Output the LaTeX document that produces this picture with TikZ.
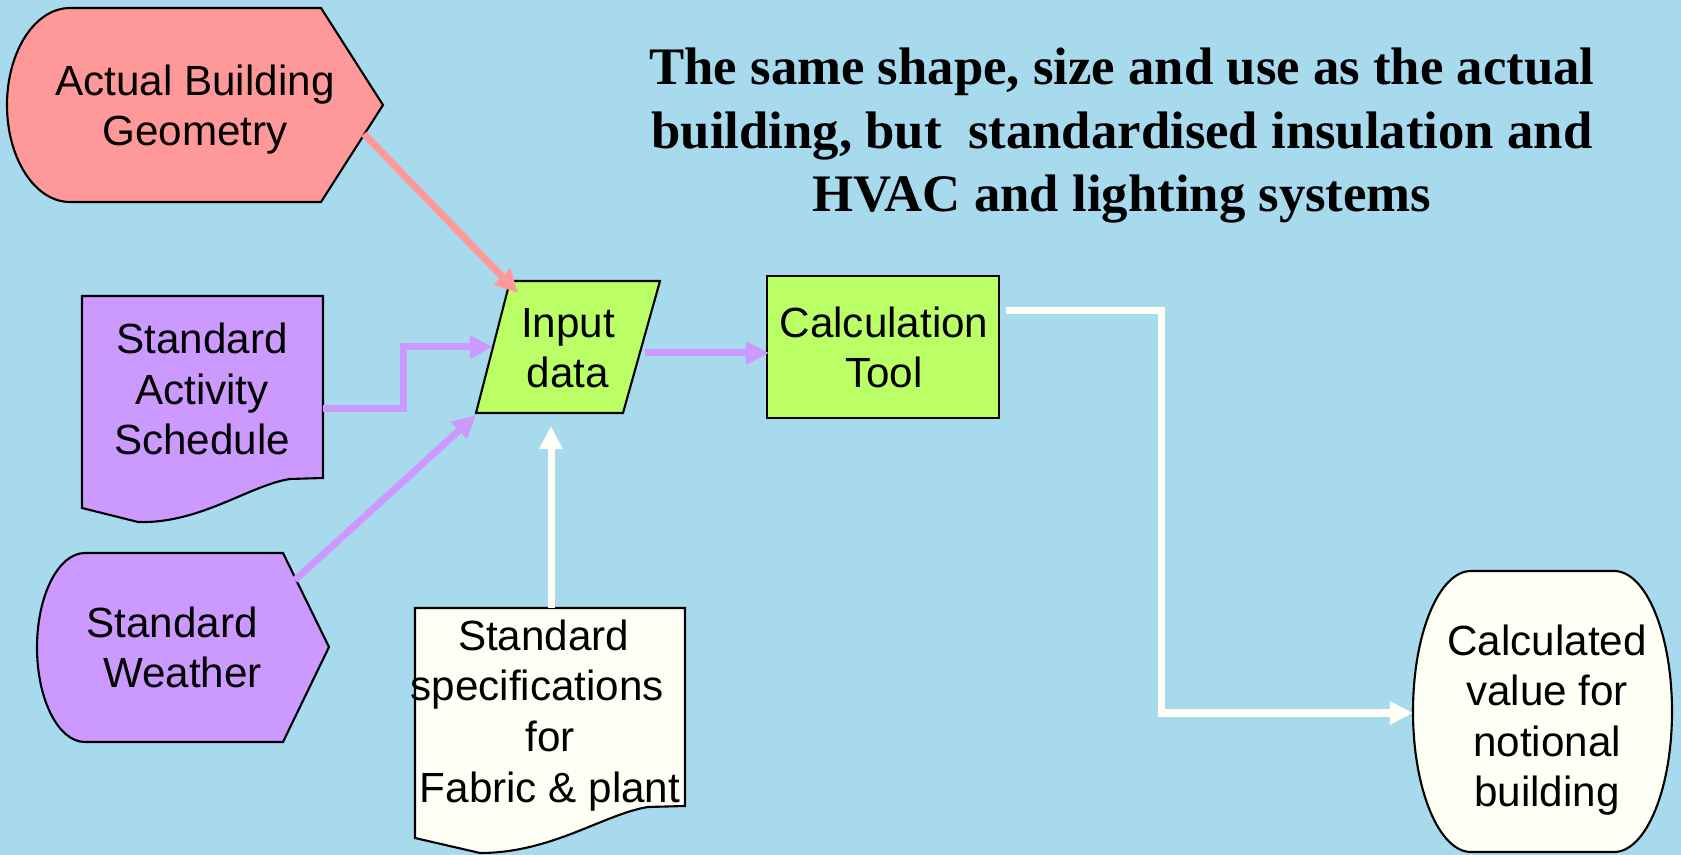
\documentclass[tikz,border=0pt]{standalone}
\usepackage{fontspec}
\setmainfont{Liberation Serif}
\setsansfont{Liberation Sans}
\usetikzlibrary{arrows.meta}
\definecolor{bgblue}{RGB}{168,218,238}
\definecolor{geompink}{RGB}{255,153,153}
\definecolor{stdpurple}{RGB}{204,153,255}
\definecolor{toolgreen}{RGB}{187,255,102}
\definecolor{papercream}{RGB}{255,255,246}

\begin{document}
\begin{tikzpicture}[x = 0.01cm, y = -0.01cm,
	boxline/.style = {draw = black, line width = 0.6pt},
	boxtext/.style = {font = \sffamily\fontsize{12}{14.4}\selectfont, align = center, anchor = base, inner sep = 0pt},
	headtext/.style = {font = \bfseries\fontsize{15}{18.07}\selectfont, align = center, anchor = base, inner sep = 0pt},
	flow/.style = {line width = 0.07cm, -{Triangle[length = 0.23cm, width = 0.22cm]}}]
	\fill[bgblue] (0, 0) rectangle (1681, 855);
	\useasboundingbox (0, 0) rectangle (1681, 855);

	\draw[boxline, fill = geompink] (70, 8) -- (321, 8) -- (383, 105) -- (321, 202) -- (70, 202)
		.. controls (35, 202) and (7, 158.6) .. (7, 105) .. controls (7, 51.4) and (35, 8) .. cycle;
	\draw[boxline, fill = stdpurple] (82, 296) -- (323, 296) -- (323, 478) -- (290, 479)
		.. controls (250, 485) and (200, 524) .. (138, 522) -- (82, 508) -- cycle;
	\draw[boxline, fill = stdpurple] (85, 553) -- (283, 553) -- (329, 647) -- (283, 742) -- (85, 742)
		.. controls (58.5, 742) and (37, 699.7) .. (37, 647.5) .. controls (37, 595.3) and (58.5, 553) .. cycle;
	\draw[boxline, fill = toolgreen] (510, 281) -- (660, 281) -- (623, 413) -- (476, 413) -- cycle;
	\draw[boxline, fill = toolgreen] (767, 276) rectangle (999, 418);
	\draw[boxline, fill = papercream] (415, 608) -- (685, 608) -- (685, 806) -- (648, 807)
		.. controls (604, 814) and (552, 853) .. (480, 853) -- (415, 838) -- cycle;
	\draw[boxline, fill = papercream] (1471, 571) -- (1614, 571)
		.. controls (1646, 571) and (1672, 633.9) .. (1672, 711.5) .. controls (1672, 789.1) and (1646, 852) .. (1614, 852)
		-- (1471, 852)
		.. controls (1439, 852) and (1413, 789.1) .. (1413, 711.5) .. controls (1413, 633.9) and (1439, 571) .. cycle;

	\node[boxtext] (geom) at (195, 146) {Actual Building\\Geometry};
	\node[boxtext] (sched) at (202, 455) {Standard\\Activity\\Schedule};
	\node[boxtext] (weather) at (172, 688) {Standard\\\hspace*{0.5em}Weather};
	\node[boxtext] (input) at (568, 388) {Input\\data};
	\node[boxtext] (calc) at (884, 388) {Calculation\\Tool};
	\node[boxtext] (spec) at (550, 802) {Standard\kern0.3em\\specifications\kern0.6em\\for\\Fabric \& plant};
	\node[boxtext] (result) at (1547, 807) {Calculated\\value for\\notional\\building};
	\node[headtext] (heading) at (1122, 212) {The same shape, size and use as the actual\\building, but\ \ standardised insulation and\\HVAC and lighting systems};

	\coordinate (geom-out) at (364, 134);
	\coordinate (sched-out) at (323, 409);
	\coordinate (sched-bend) at (403, 409);
	\coordinate (weather-out) at (295, 580);
	\coordinate (spec-out) at (551, 608);
	\coordinate (input-nw) at (518, 293);
	\coordinate (input-w) at (493, 347);
	\coordinate (input-sw) at (476, 415);
	\coordinate (input-s) at (551, 426);
	\coordinate (input-out) at (645, 353);
	\coordinate (calc-in) at (769, 353);
	\coordinate (calc-out) at (1006, 311);
	\coordinate (calc-bend) at (1161, 713);
	\coordinate (result-in) at (1413, 713);

	\draw[flow, geompink] (geom-out) -- (input-nw);
	\draw[flow, stdpurple] (sched-out) -- (sched-bend) |- (input-w);
	\draw[flow, stdpurple] (weather-out) -- (input-sw);
	\draw[flow, papercream] (spec-out) -- (input-s);
	\draw[flow, stdpurple] (input-out) -- (calc-in);
	\draw[flow, papercream] (calc-out) -| (calc-bend) -- (result-in);
\end{tikzpicture}
\end{document}
